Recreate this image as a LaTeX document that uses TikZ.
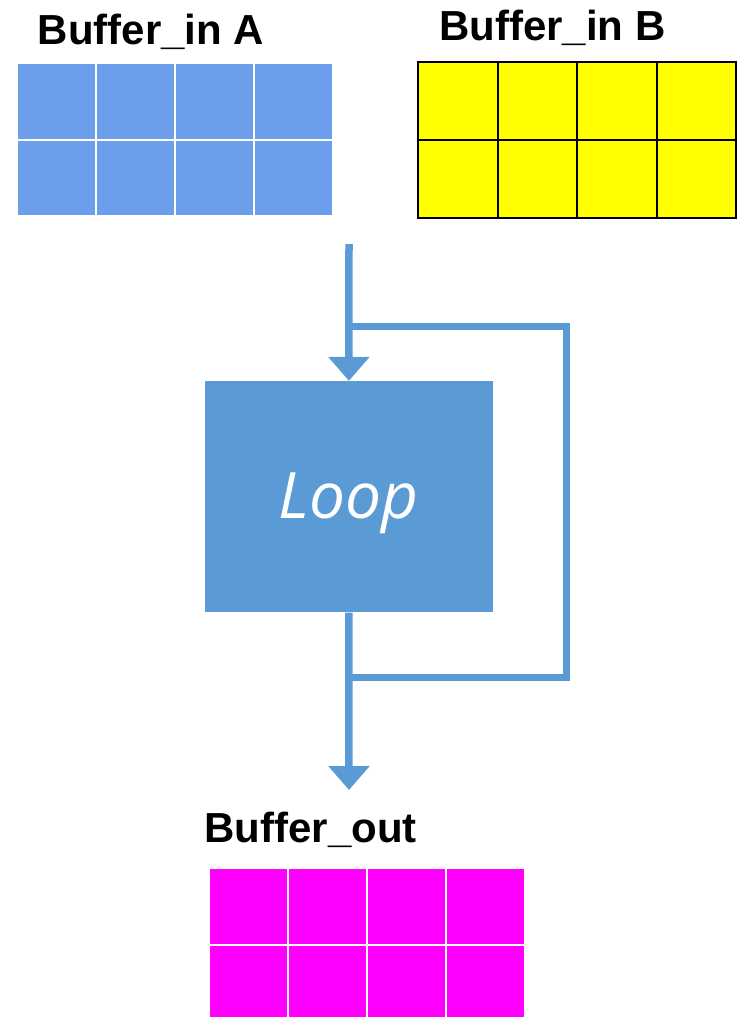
\documentclass[tikz,border=0pt]{standalone}
\usepackage{fontspec}
\setmainfont{Liberation Sans}
\newfontfamily\loopfont{Open Sans}
\usetikzlibrary{arrows.meta}
\definecolor{cellblue}{RGB}{109,158,235}
\definecolor{flowblue}{RGB}{91,155,213}
\definecolor{cellyellow}{RGB}{255,255,0}
\definecolor{cellmagenta}{RGB}{255,0,255}
\tikzset{
  buflabel/.style={anchor=base west, inner sep=0pt,
    font=\fontsize{42}{50}\selectfont\bfseries},
  cellA/.style={fill=cellblue, draw=white, line width=2pt},
  cellB/.style={fill=cellyellow, draw=black, line width=2pt},
  cellOut/.style={fill=cellmagenta, draw=white, line width=2pt},
  loopbox/.style={fill=flowblue, draw=none, minimum width=287.7pt,
    minimum height=231.3pt, inner sep=0pt},
  flow/.style={draw=flowblue, line width=7.5pt,
    -{Triangle[width=40pt,length=24pt]}},
  feedback/.style={draw=flowblue, line width=7pt, line join=miter}
}
\begin{document}
\begin{tikzpicture}[x=1pt,y=-1pt]
\useasboundingbox (0,0) rectangle (744,1017);

% input buffer A
\node[buflabel] (labA) at (37.7,44) {Buffer\_in A};
\foreach \i in {0,...,3}
  \foreach \j in {0,1}
    \draw[cellA] ({17+\i*79},{63+\j*76.5}) rectangle +(79,76.5);

% input buffer B
\node[buflabel] (labB) at (439,40) {Buffer\_in B};
\foreach \i in {0,...,3}
  \foreach \j in {0,1}
    \draw[cellB] ({418+\i*79.5},{62+\j*78}) rectangle +(79.5,78);

% loop block
\node[loopbox] (loop) at (348.9,496.7) {};
\node[anchor=base, inner sep=0pt, text=white,
  font=\loopfont\itshape\fontsize{64}{74}\selectfont] (looptxt) at (348.5,518.5) {Loop};

% connectors
\coordinate (inTop) at (349,244);
\coordinate (split) at (349,326.7);
\coordinate (fbTR) at (566,326.7);
\coordinate (fbBR) at (566,677);
\coordinate (join) at (349,677);
\coordinate (outTip) at (349,790);

\draw[flow] (inTop) -- (loop.north);
\draw[feedback] (split) -- (fbTR) -- (fbBR) -- (join);
\draw[flow] (loop.south) -- (outTip);

% output buffer
\node[buflabel] (labOut) at (204.3,842.7) {Buffer\_out};
\foreach \i in {0,...,3}
  \foreach \j in {0,1}
    \draw[cellOut] ({209+\i*79},{868+\j*77}) rectangle +(79,77);
\end{tikzpicture}
\end{document}
